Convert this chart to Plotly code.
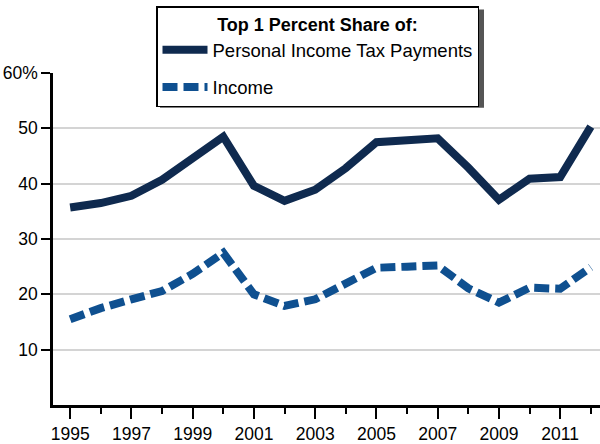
import plotly.graph_objects as go

years = list(range(1995, 2013))
tax_share = [35.7, 36.5, 37.8, 40.7, 44.6, 48.5, 39.6, 36.9, 38.9, 42.8, 47.5, 48.0, 48.2, 42.9, 37.1, 40.9, 41.2, 50.3]
income_share = [15.5, 17.5, 19.1, 20.6, 23.7, 27.5, 20.0, 17.9, 19.1, 22.1, 24.8, 25.0, 25.2, 21.1, 18.5, 21.2, 21.0, 24.9]
ytick_vals = [10, 20, 30, 40, 50, 60]
ytick_text = ["10", "20", "30", "40", "50", "60%"]
xtick_vals = list(range(1995, 2012, 2))

FONT = "Liberation Sans, Arial, Helvetica, sans-serif"
L, R, T, B = 53, 0, 73, 37
W, H = 600, 444
pw, ph = W - L - R, H - T - B

def px(x):
    return (x - L) / pw

def py(y):
    return (H - B - y) / ph

fig = go.Figure()
fig.add_trace(go.Scatter(
    x=years, y=tax_share, mode="lines", name="Personal Income Tax Payments",
    line=dict(color="#0f2a4f", width=8), legendgroup="a"))
fig.add_trace(go.Scatter(
    x=years, y=income_share, mode="lines", name="Income",
    line=dict(color="#0f5090", width=8, dash="15px,6px"), legendgroup="b"))

fig.update_layout(
    width=W, height=H, autosize=False,
    margin=dict(l=L, r=R, t=T, b=B, pad=0),
    paper_bgcolor="white", plot_bgcolor="white",
    font=dict(family=FONT, size=17.5, color="black"),
    showlegend=True,
    legend=dict(
        x=px(156), y=py(6), xanchor="left", yanchor="top",
        bgcolor="white", bordercolor="black", borderwidth=1.5,
        title=dict(text="<b>Top 1 Percent Share of:</b>", side="top center",
                   font=dict(family=FONT, size=18)),
        font=dict(family=FONT, size=18.5),
        tracegroupgap=10, itemwidth=45,
    ),
    shapes=[dict(type="rect", xref="paper", yref="paper",
                 x0=px(160), x1=px(484), y0=py(108), y1=py(9),
                 fillcolor="#555555", line=dict(width=0), layer="above")],
    xaxis=dict(
        range=[1994.44, 2012.3], showgrid=False, zeroline=False,
        showline=True, linecolor="black", linewidth=2.5,
        tickmode="array", tickvals=xtick_vals, ticktext=[str(v) for v in xtick_vals],
        ticks="outside", ticklen=11, tickwidth=2, tickcolor="black",
        minor=dict(ticks="outside", ticklen=6, tickwidth=2, tickcolor="black",
                   tickmode="array", tickvals=list(range(1996, 2013, 2))),
        tickfont=dict(family=FONT, size=17.5),
    ),
    yaxis=dict(
        range=[0, 60], showgrid=True, gridcolor="#d4d4d4", gridwidth=1.5,
        zeroline=False, showline=True, linecolor="black", linewidth=2.5,
        tickmode="array", tickvals=ytick_vals, ticktext=ytick_text,
        ticks="outside", ticklen=9, tickwidth=2, tickcolor="black",
        tickfont=dict(family=FONT, size=17.5),
    ),
)

fig.write_html("out.html", config={"displayModeBar": False},
               post_script="document.body.style.margin='0';document.body.style.overflow='hidden';")
